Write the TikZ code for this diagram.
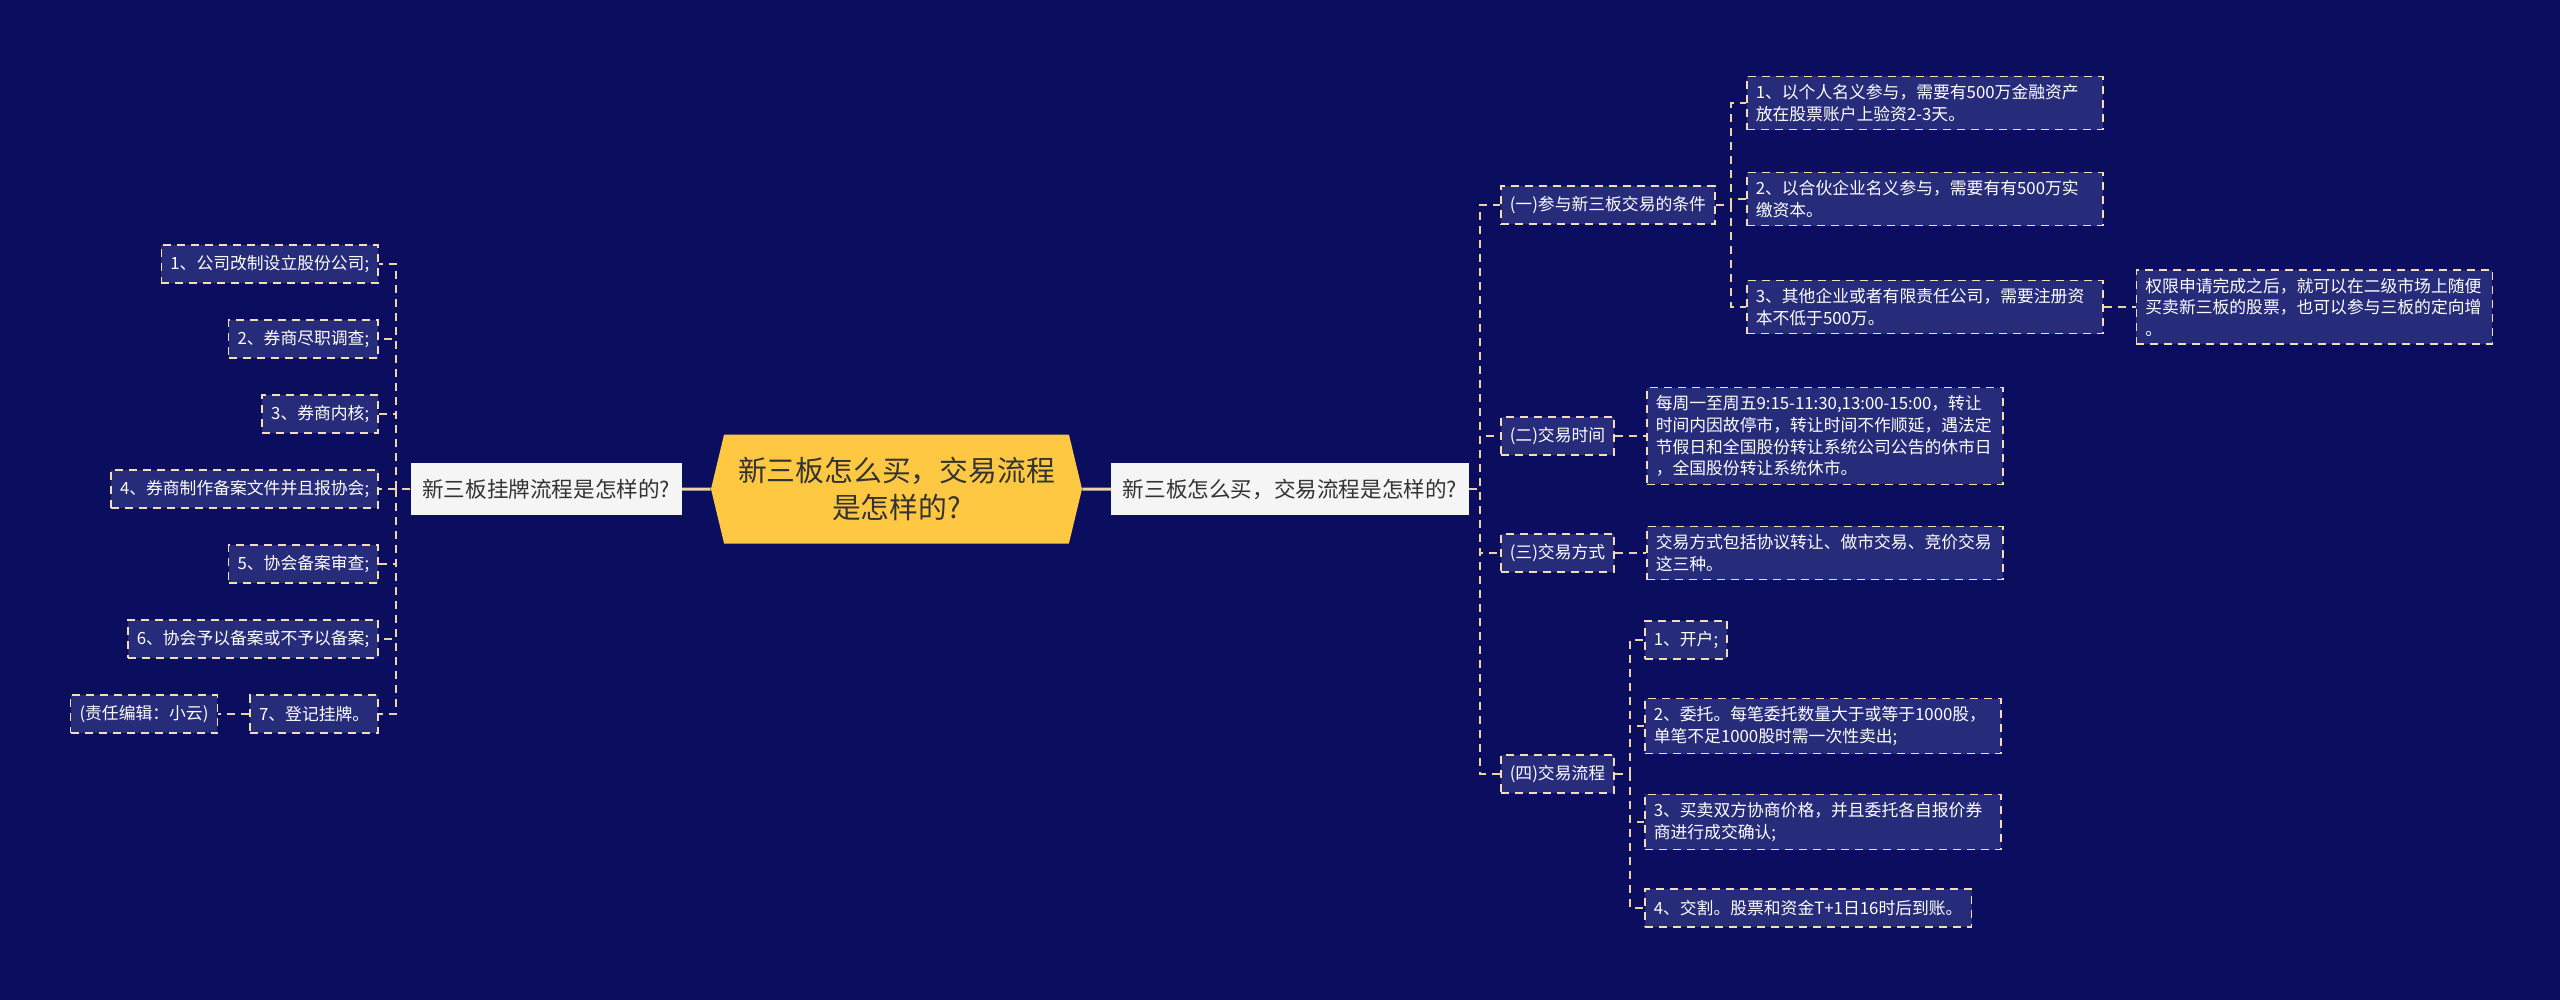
\documentclass[tikz,border=0pt]{standalone}
\usepackage{fontspec}
\setmainfont{Noto Sans CJK SC}
\usepackage{tikz}
\usetikzlibrary{positioning, shapes.symbols}

\definecolor{bgnavy}{HTML}{0B0E5E}
\definecolor{boxnavy}{HTML}{262B7A}
\definecolor{edgecream}{HTML}{F3DDB5}
\definecolor{linktan}{HTML}{EBD3A4}
\definecolor{hubgold}{HTML}{FFC842}
\definecolor{paper}{HTML}{F5F5F5}
\definecolor{ink}{HTML}{333333}

\begin{document}
\begin{tikzpicture}[
  x=0.5pt,
  y=-0.5pt
]
\tikzstyle{leaf}=[draw=edgecream, fill=boxnavy, text=white, line width=0.8pt, dash pattern=on 4pt off 3pt, inner xsep=4.5pt, inner ysep=4pt, minimum height=19pt, font={\fontsize{8.4}{10.8}\selectfont}]
\tikzstyle{wrapleaf}=[leaf, text width=169pt, align=left]
\tikzstyle{topic}=[fill=paper, text=ink, inner xsep=5.75pt, minimum height=26pt, font={\fontsize{10.8}{13}\selectfont}]
\tikzstyle{hub}=[signal, signal to=west and east, signal pointer angle=153, fill=hubgold, text=ink, align=center, minimum width=185.5pt, minimum height=54.5pt, inner sep=2pt, font={\fontsize{14.4}{18.5}\selectfont}]
\tikzstyle{link}=[draw=linktan, line width=1pt, dash pattern=on 4pt off 3pt]
\tikzstyle{trunk}=[draw=linktan, line width=1.5pt]

\useasboundingbox (0,0) rectangle (2560,1000);
\fill[bgnavy] (0,0) rectangle (2560,1000);

% ================= CENTRE =================
\node[hub] (H) at (896.5,489) {新三板怎么买，交易流程\\是怎样的?};
\node[topic, anchor=east] (T1) at (682,489) {新三板挂牌流程是怎样的?};
\node[topic, anchor=west] (T2) at (1111,489) {新三板怎么买，交易流程是怎样的?};

% ================= LEFT BRANCH =================
\foreach \i/\y/\txt in {1/264/{1、公司改制设立股份公司;},
                        2/339/{2、券商尽职调查;},
                        3/414/{3、券商内核;},
                        4/489/{4、券商制作备案文件并且报协会;},
                        5/564/{5、协会备案审查;},
                        6/639/{6、协会予以备案或不予以备案;},
                        7/714/{7、登记挂牌。}}
  \node[leaf, anchor=east] (L\i) at (379,\y) {\txt};
\node[leaf] (E) [left=15.5pt of L7] {(责任编辑：小云)};

% ================= RIGHT BRANCH =================
\node[leaf, anchor=west] (S1) at (1500,205) {(一)参与新三板交易的条件};
\node[leaf, anchor=west] (S2) at (1500,436) {(二)交易时间};
\node[leaf, anchor=west] (S3) at (1500,553) {(三)交易方式};
\node[leaf, anchor=west] (S4) at (1500,774) {(四)交易流程};

% ===== conditions =====
\node[wrapleaf, anchor=west] (C1) at (1746,103) {1、以个人名义参与，需要有500万金融资产\\放在股票账户上验资2-3天。};
\node[wrapleaf, anchor=west] (C2) at (1746,199) {2、以合伙企业名义参与，需要有有500万实\\缴资本。};
\node[wrapleaf, anchor=west] (C3) at (1746,307) {3、其他企业或者有限责任公司，需要注册资\\本不低于500万。};
\node[wrapleaf] (R) [right=16pt of C3] {权限申请完成之后，就可以在二级市场上随便\\买卖新三板的股票，也可以参与三板的定向增\\。};

% ===== time and mode =====
\node[wrapleaf] (TM) [right=15.5pt of S2] {每周一至周五9:15-11:30,13:00-15:00，转让\\时间内因故停市，转让时间不作顺延，遇法定\\节假日和全国股份转让系统公司公告的休市日\\，全国股份转让系统休市。};
\node[wrapleaf] (MD) [right=15.5pt of S3] {交易方式包括协议转让、做市交易、竞价交易\\这三种。};

% ===== process =====
\node[leaf, anchor=west] (P1) at (1644,640) {1、开户;};
\node[wrapleaf, anchor=west] (P2) at (1644,726) {2、委托。每笔委托数量大于或等于1000股，\\单笔不足1000股时需一次性卖出;};
\node[wrapleaf, anchor=west] (P3) at (1644,822) {3、买卖双方协商价格，并且委托各自报价券\\商进行成交确认;};
\node[leaf, anchor=west] (P4) at (1644,908) {4、交割。股票和资金T+1日16时后到账。};

% ===== trunk links =====
\draw[trunk] (T1) -- (H);
\draw[trunk] (H) -- (T2);

% ===== left links =====
\foreach \i in {1,...,7}
  \draw[link] (T1.west) -- ++(-14,0) |- (L\i.east);
\draw[link] (L7) -- (E);

% ===== right links =====
\foreach \i in {1,...,4}
  \draw[link] (T2.east) -- ++(11,0) |- (S\i.west);
\foreach \i in {1,...,3}
  \draw[link] (S1.east) -- ++(15,0) |- (C\i.west);
\foreach \i in {1,...,4}
  \draw[link] (S4.east) -- ++(15,0) |- (P\i.west);
\draw[link] (C3) -- (R);
\draw[link] (S2) -- (TM);
\draw[link] (S3) -- (MD);
\end{tikzpicture}
\end{document}
